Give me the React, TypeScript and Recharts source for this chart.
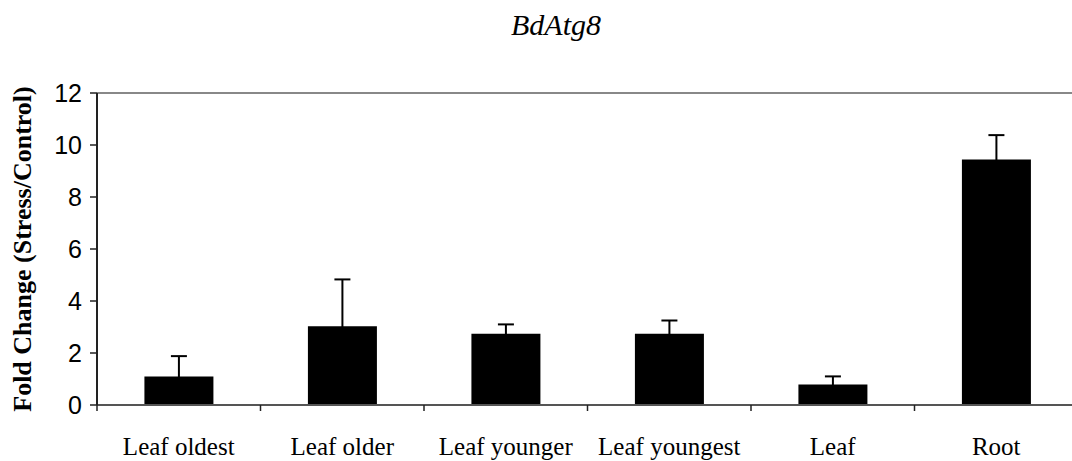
import React from 'react';
import { BarChart, Bar, XAxis, YAxis, ErrorBar, ReferenceLine } from 'recharts';

const categories = ['Leaf oldest', 'Leaf older', 'Leaf younger', 'Leaf youngest', 'Leaf', 'Root'];
const foldChange = [1.1, 3.03, 2.74, 2.74, 0.79, 9.44];
const errorUp = [0.78, 1.8, 0.36, 0.51, 0.31, 0.94];
const yTicks = [0, 2, 4, 6, 8, 10, 12];
const title = 'BdAtg8';
const yLabel = 'Fold Change (Stress/Control)';

const data = categories.map((name, i) => ({ name, value: foldChange[i], err: errorUp[i] }));

const SERIF = '"Liberation Serif", "Times New Roman", serif';
const SANS = '"Liberation Sans", Arial, sans-serif';

const XTick = (props: any) => {
  const { x, y, payload } = props;
  const half = payload && payload.offset != null ? payload.offset : 0;
  return (
    <g>
      <line x1={x - half} x2={x - half} y1={y} y2={y + 6} stroke="#222" strokeWidth={1.5} />
      <text x={x} y={y + 50} textAnchor="middle" fontFamily={SERIF} fontSize={25} fill="#000">
        {payload.value}
      </text>
    </g>
  );
};

const YLabel = (props: any) => {
  const vb = props.viewBox || {};
  const cy = (vb.y || 0) + (vb.height || 0) / 2;
  const cx = 31;
  return (
    <text
      x={cx}
      y={cy}
      transform={`rotate(-90, ${cx}, ${cy})`}
      textAnchor="middle"
      fontFamily={SERIF}
      fontWeight="bold"
      fontSize={26}
      fill="#000"
    >
      {yLabel}
    </text>
  );
};

export default function App() {
  return (
    <div style={{ position: 'absolute', left: 0, top: 0, width: 1072, height: 461, background: '#fff' }}>
      <div
        style={{
          position: 'absolute',
          left: 0,
          top: 10,
          width: 1112,
          textAlign: 'center',
          fontFamily: SERIF,
          fontStyle: 'italic',
          fontSize: 30,
          lineHeight: '30px',
          color: '#000',
        }}
      >
        {title}
      </div>
      <BarChart
        width={1072}
        height={461}
        data={data}
        margin={{ top: 93, right: -6, bottom: 0, left: 0 }}
        barCategoryGap="29%"
      >
        <XAxis
          dataKey="name"
          height={56}
          tickLine={false}
          tickSize={0}
          tickMargin={0}
          axisLine={{ stroke: '#555', strokeWidth: 2 }}
          tick={<XTick />}
          interval={0}
        />
        <YAxis
          width={97}
          domain={[0, 12]}
          ticks={yTicks}
          allowDecimals={false}
          axisLine={{ stroke: '#222', strokeWidth: 2 }}
          tickLine={{ stroke: '#222', strokeWidth: 1.5 }}
          tickSize={7}
          tickMargin={8}
          tick={{ fontFamily: SANS, fontSize: 25, fill: '#000' }}
          label={YLabel}
        />
        <ReferenceLine y={12} stroke="#888" strokeWidth={2} />
        <Bar dataKey="value" fill="#000" isAnimationActive={false}>
          <ErrorBar dataKey="err" direction="y" width={8} stroke="#000" strokeWidth={2} isAnimationActive={false} />
        </Bar>
      </BarChart>
    </div>
  );
}
